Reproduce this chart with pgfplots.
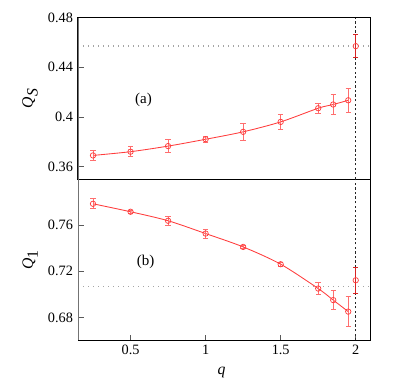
\documentclass[border=0pt]{standalone}
\usepackage{fontspec}
\setmainfont{Liberation Serif}
\usepackage{pgfplots}
\usepackage{pgfplotstable}
\pgfplotsset{compat=1.18}
\definecolor{pt}{RGB}{255,60,60}
\definecolor{eb}{RGB}{255,110,110}
\definecolor{ebd}{RGB}{215,35,35}
\definecolor{dotg}{RGB}{165,165,165}

\pgfplotstableread{
x y ey
0.25 0.369 0.004
0.50 0.372 0.004
0.75 0.3765 0.005
1.00 0.382 0.0025
1.25 0.388 0.007
1.50 0.396 0.006
1.75 0.407 0.004
1.85 0.410 0.008
1.95 0.4134 0.0099
}\topdata
\pgfplotstableread{
x y ey
2.00 0.457 0.0093
}\topend
\pgfplotstableread{
x y ey
0.25 0.7785 0.0043
0.50 0.7716 0.0013
0.75 0.7638 0.004
1.00 0.7527 0.004
1.25 0.7411 0.001
1.50 0.7261 0.0015
1.75 0.7050 0.005
1.85 0.6950 0.008
1.95 0.6850 0.013
}\botdata
\pgfplotstableread{
x y ey
2.00 0.7122 0.011
}\botend

\begin{document}
\begin{tikzpicture}
\pgfplotsset{
  panel/.style={
    scale only axis, width=204.4pt, height=113pt,
    xmin=0.15, xmax=2.095,
    tick align=inside, xtick pos=bottom, ytick pos=left,
    major tick length=4pt,
    /pgf/number format/assume math mode=true,
    tick label style={font=\fontsize{10}{12}\selectfont},
    label style={font=\fontsize{11}{13}\selectfont},
    axis line style={black, line width=0.7pt},
    tick style={black!65, line width=0.5pt},
    ylabel style={at={(axis description cs:-0.164,0.5)}, anchor=center},
  },
  hdot/.style={dotg, line width=0.9pt, dash pattern=on 0.9pt off 2.6pt},
  vdash/.style={black!85, line width=0.45pt, dash pattern=on 1.6pt off 1.6pt},
  curve/.style={pt, line width=0.6pt, smooth, no marks},
  pts/.style={draw=none, mark=o, mark size=1.9pt, mark options={pt, line width=0.5pt},
    error bars/.cd, y dir=both, y explicit,
    error bar style={eb, line width=0.6pt},
    error mark options={eb, rotate=90, mark size=1.9pt, line width=0.6pt}},
  ptsend/.style={draw=none, mark=o, mark size=1.9pt, mark options={pt, line width=0.5pt},
    error bars/.cd, y dir=both, y explicit,
    error bar style={ebd, line width=0.6pt},
    error mark options={ebd, rotate=90, mark size=1.9pt, line width=0.6pt}},
}
\begin{axis}[panel, name=top,
  ymin=0.35, ymax=0.48,
  ytick={0.36,0.40,0.44,0.48}, yticklabels={0.36,0.4,0.44,0.48},
  xtick=\empty,
  ylabel={\textit{Q}$_{\textit{S}}$},
]
\addplot[hdot] coordinates {(0.15,0.457) (2.095,0.457)};
\addplot[vdash] coordinates {(2,0.35) (2,0.48)};
\addplot[curve] table[x=x, y=y] {\topdata};
\addplot[pts] table[x=x, y=y, y error=ey] {\topdata};
\addplot[ptsend] table[x=x, y=y, y error=ey] {\topend};
\node[font=\fontsize{10.5}{12}\selectfont] at (axis cs:0.586,0.414) {(a)};
\draw[black!55, line width=1.1pt] (rel axis cs:0,0) -- (rel axis cs:0,1);
\end{axis}
\begin{axis}[panel, name=bot, at={(top.south west)}, anchor=north west,
  ymin=0.66, ymax=0.80,
  ytick={0.68,0.72,0.76}, yticklabels={0.68,0.72,0.76},
  xtick={0.5,1,1.5,2}, xticklabels={0.5,1,1.5,2},
  ylabel={\textit{Q}$_{\textrm{1}}$},
  xlabel={\textit{q}},
  xlabel style={at={(axis description cs:0.492,-0.196)}, anchor=center},
]
\addplot[hdot] coordinates {(0.15,0.7067) (2.095,0.7067)};
\addplot[vdash] coordinates {(2,0.66) (2,0.80)};
\addplot[curve] table[x=x, y=y] {\botdata};
\addplot[pts] table[x=x, y=y, y error=ey] {\botdata};
\addplot[ptsend] table[x=x, y=y, y error=ey] {\botend};
\node[font=\fontsize{10.5}{12}\selectfont] at (axis cs:0.6,0.728) {(b)};
\draw[black!55, line width=1.1pt] (rel axis cs:0,0) -- (rel axis cs:0,1);
\end{axis}
\pgfresetboundingbox
\path[use as bounding box] ([shift={(-54.6pt,125.3pt)}]top.south west) rectangle ([shift={(235.9pt,-140.7pt)}]top.south west);
\end{tikzpicture}
\end{document}
